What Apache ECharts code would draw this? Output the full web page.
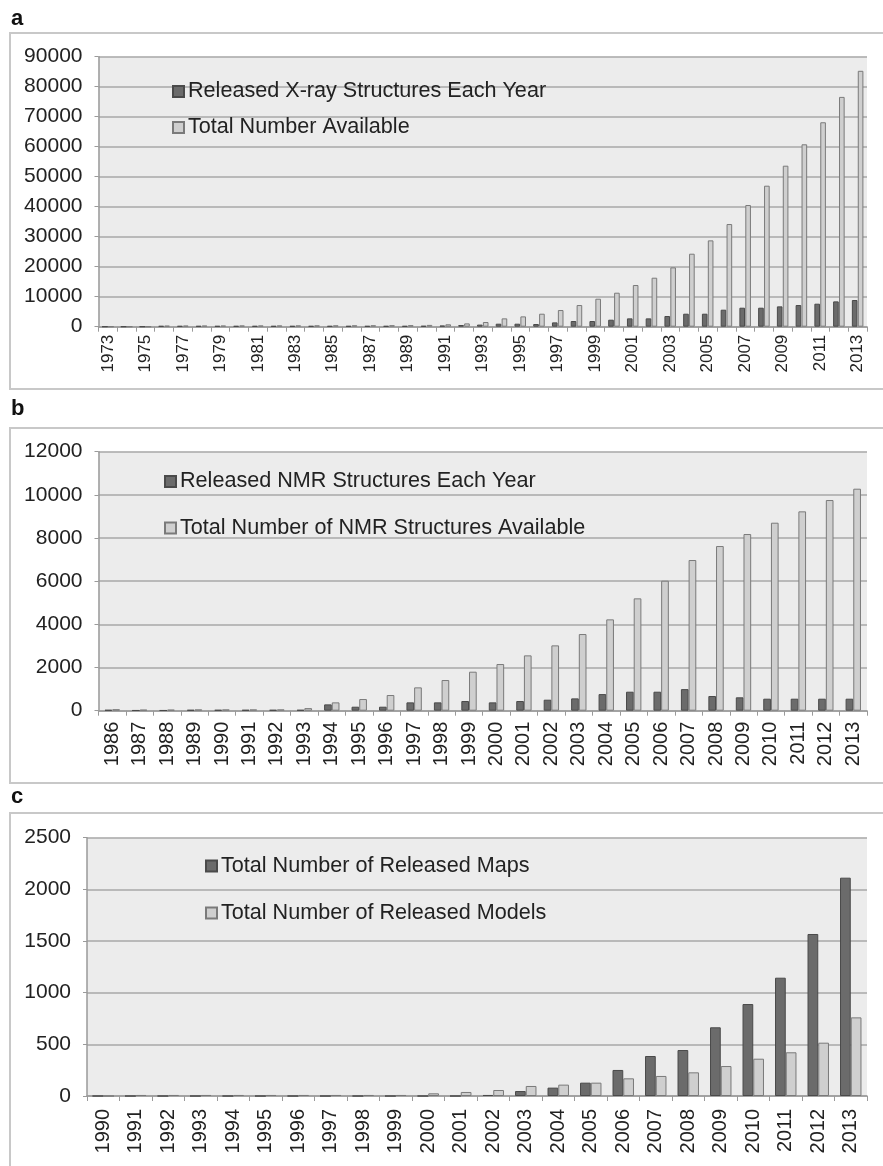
<!DOCTYPE html>
<html>
<head>
<meta charset="utf-8">
<script src="https://cdn.jsdelivr.net/npm/echarts@6/dist/echarts.min.js"></script>
<style>
html,body{margin:0;padding:0;background:#fff;}
#chart{width:883px;height:1166px;}
</style>
</head>
<body>
<div id="chart"></div>
<script>
// ---- Panel a: X-ray ----
const yearsA = ['1973','1974','1975','1976','1977','1978','1979','1980','1981','1982','1983','1984','1985','1986','1987','1988','1989','1990','1991','1992','1993','1994','1995','1996','1997','1998','1999','2000','2001','2002','2003','2004','2005','2006','2007','2008','2009','2010','2011','2012','2013'];
const xrayReleased = [0,0,0,250,250,250,250,250,250,250,250,250,250,250,250,250,250,300,400,560,700,1000,1000,900,1440,1890,1890,2330,2780,2780,3560,4330,4330,5670,6330,6330,6780,7220,7670,8440,8890];
const xrayTotal = [0,0,0,350,380,400,400,420,420,430,440,450,460,470,480,500,520,600,800,1100,1560,2780,3440,4330,5560,7220,9330,11330,13890,16330,19780,24330,28780,34220,40560,47000,53670,60800,68150,76600,85300];
const yTicksA = [0,10000,20000,30000,40000,50000,60000,70000,80000,90000];

// ---- Panel b: NMR ----
const yearsB = ['1986','1987','1988','1989','1990','1991','1992','1993','1994','1995','1996','1997','1998','1999','2000','2001','2002','2003','2004','2005','2006','2007','2008','2009','2010','2011','2012','2013'];
const nmrReleased = [40,20,20,40,40,40,40,40,293,185,185,386,386,448,386,448,510,571,770,880,880,1000,680,620,556,556,556,556];
const nmrTotal = [70,50,50,60,60,60,60,120,386,540,726,1081,1421,1807,2162,2564,3027,3552,4232,5205,6023,6981,7629,8185,8710,9236,9761,10286];
const yTicksB = [0,2000,4000,6000,8000,10000,12000];

// ---- Panel c: EM ----
const yearsC = ['1990','1991','1992','1993','1994','1995','1996','1997','1998','1999','2000','2001','2002','2003','2004','2005','2006','2007','2008','2009','2010','2011','2012','2013'];
const emMaps = [0,0,0,0,0,0,0,0,0,0,0,0,10,48,81,129,252,387,445,665,890,1145,1568,2113];
const emModels = [0,10,10,10,10,10,10,10,10,10,26,39,58,97,110,129,171,194,229,290,361,423,516,761];
const yTicksC = [0,500,1000,1500,2000,2500];

const names = {
  a: ['Released X-ray Structures Each Year','Total Number Available'],
  b: ['Released NMR Structures Each Year','Total Number of NMR Structures Available'],
  c: ['Total Number of Released Maps','Total Number of Released Models']
};

const FONT = '"Liberation Sans", Arial, Helvetica, sans-serif';
const TXT = '#222';
const DARK = {color:'#6b6b6b', borderColor:'#4a4a4a', borderWidth:1};
const LIGHT = {color:'#cfcfcf', borderColor:'#7a7a7a', borderWidth:1};

const grids = [
  {left:98.5, right:16, top:56.7, height:270},
  {left:98.5, right:16, top:451.7, height:259},
  {left:87, right:16, top:837.7, height:258.3}
];
grids.forEach(g => { g.show = true; g.backgroundColor = '#ececec'; g.borderWidth = 0; });

function xAxis(idx, data, fs, interval, margin){
  return {
    type:'category', gridIndex:idx, data:data,
    axisLine:{show:true, lineStyle:{color:'#9a9a9a', width:1.5}},
    axisTick:{show:true, interval:0, length:5, lineStyle:{color:'#9a9a9a'}},
    axisLabel:{interval:interval, rotate:90, fontSize:fs, fontFamily:FONT, color:TXT, margin:margin}
  };
}
function yAxis(idx, ticks){
  return {
    type:'value', gridIndex:idx, min:ticks[0], max:ticks[ticks.length-1], interval:ticks[1]-ticks[0],
    axisLine:{show:true, lineStyle:{color:'#9a9a9a', width:1.5}},
    axisTick:{show:true, length:4, lineStyle:{color:'#9a9a9a'}},
    splitLine:{show:true, lineStyle:{color:'#a8a8a8', width:1.5}},
    axisLabel:{fontSize:21, fontFamily:FONT, color:TXT, margin:16, formatter: v => String(v)}
  };
}
function legend(names, left, top, gap){
  return {
    data:names, orient:'vertical', left:left, top:top, itemGap:gap,
    itemWidth:11, itemHeight:11, icon:'rect', padding:0,
    textStyle:{fontSize:21.6, fontFamily:FONT, color:TXT, lineHeight:22, padding:[0,0,0,-1]},
    selectedMode:false
  };
}
function bar(name, idx, data, style, bw, gap){
  return {
    type:'bar', name:name, xAxisIndex:idx, yAxisIndex:idx, data:data,
    barWidth:bw, barGap:gap, itemStyle:style, animation:false, silent:true
  };
}

const option = {
  animation:false,
  grid: grids,
  xAxis: [xAxis(0, yearsA, 17, 1, 8), xAxis(1, yearsB, 20, 0, 11), xAxis(2, yearsC, 20, 0, 13)],
  yAxis: [yAxis(0, yTicksA), yAxis(1, yTicksB), yAxis(2, yTicksC)],
  legend: [
    legend(names.a, 172, 80.5, 14),
    legend(names.b, 164, 470.5, 24.5),
    legend(names.c, 205, 855, 25)
  ],
  series: [
    bar(names.a[0], 0, xrayReleased, DARK, '30%', '5%'),
    bar(names.a[1], 0, xrayTotal, LIGHT, '30%', '5%'),
    bar(names.b[0], 1, nmrReleased, DARK, '28%', '0%'),
    bar(names.b[1], 1, nmrTotal, LIGHT, '28%', '0%'),
    bar(names.c[0], 2, emMaps, DARK, '33%', '0%'),
    bar(names.c[1], 2, emModels, LIGHT, '33%', '0%')
  ],
  graphic: [
    {type:'rect', shape:{x:10, y:33, width:890, height:356}, style:{fill:null, stroke:'#c8c8c8', lineWidth:2}, silent:true, z:-1},
    {type:'rect', shape:{x:10, y:428, width:890, height:355}, style:{fill:null, stroke:'#c8c8c8', lineWidth:2}, silent:true, z:-1},
    {type:'rect', shape:{x:10, y:813, width:890, height:370}, style:{fill:null, stroke:'#c8c8c8', lineWidth:2}, silent:true, z:-1},
    {type:'text', left:11, top:8, style:{text:'a', font:'bold 22px '+FONT, fill:'#111'}},
    {type:'text', left:11, top:398, style:{text:'b', font:'bold 22px '+FONT, fill:'#111'}},
    {type:'text', left:11, top:786, style:{text:'c', font:'bold 22px '+FONT, fill:'#111'}}
  ]
};

const chart = echarts.init(document.getElementById('chart'), null, {renderer:'canvas'});
chart.setOption(option);
</script>
</body>
</html>
